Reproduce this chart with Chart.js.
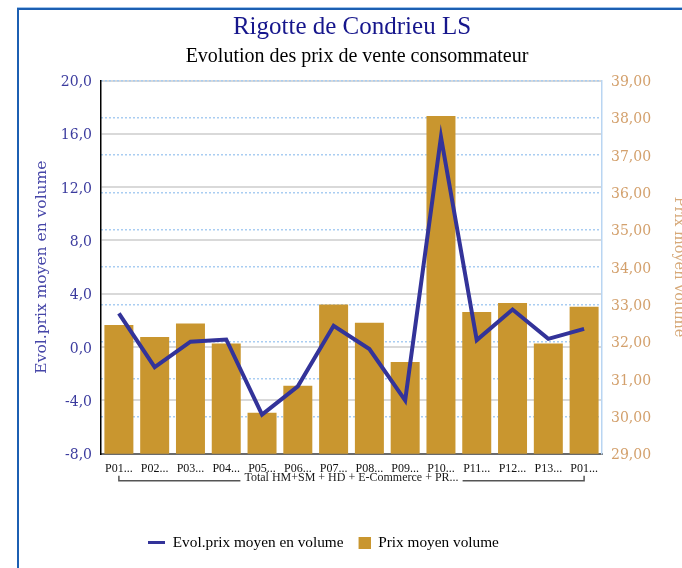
<!DOCTYPE html>
<html>
<head>
<meta charset="utf-8">
<title>Rigotte de Condrieu LS</title>
<script src="https://cdn.jsdelivr.net/npm/chart.js@4.4.1/dist/chart.umd.min.js"></script>
<style>
  html, body { margin: 0; padding: 0; background: #ffffff; overflow: hidden; }
  #wrap { position: relative; width: 682px; height: 568px; }
</style>
</head>
<body>
<div id="wrap"><canvas id="chart" width="682" height="568"></canvas></div>
<script>
// Periods shown on the category axis
const categories = ['P01...', 'P02...', 'P03...', 'P04...', 'P05...', 'P06...', 'P07...',
                    'P08...', 'P09...', 'P10...', 'P11...', 'P12...', 'P13...', 'P01...'];
const groupLabel = 'Total HM+SM + HD + E-Commerce + PR...';

// Evolution of the average volume price (left axis, %)
const evolPrix = [2.53, -1.50, 0.40, 0.57, -5.07, -2.95, 1.60, -0.15, -4.00, 15.76, 0.52, 2.82, 0.62, 1.37];
// Average volume price (right axis)
const prixMoyen = [32.45, 32.13, 32.49, 31.95, 30.10, 30.82, 33.00, 32.51, 31.46, 38.05, 32.80, 33.04, 31.95, 32.94];

// Tick values of both value axes
const evolTicks = [-8, -4, 0, 4, 8, 12, 16, 20];
const prixTicks = [29, 30, 31, 32, 33, 34, 35, 36, 37, 38, 39];

const NAVY = '#333399';
const GOLD = '#c9962f';

// Legend swatches: a short thick line and a small square (right-aligned in the box)
function swatch(w, h, x0, sw, sh, color) {
  const c = document.createElement('canvas');
  c.width = w; c.height = h;
  const g = c.getContext('2d');
  g.fillStyle = color;
  g.fillRect(x0, (h - sh) / 2, sw, sh);
  return c;
}
const legendSwatches = [swatch(17, 3, 0, 17, 3, NAVY), swatch(17, 12, 5, 12, 12, GOLD)];
const LEGEND_SHIFT = 32;

// Frame, headings and the category group bracket
const decorations = {
  id: 'decorations',
  afterLayout(chart) {
    const lg = chart.legend;
    if (lg) { lg.left -= LEGEND_SHIFT; lg.right -= LEGEND_SHIFT; }
  },
  beforeDraw(chart) {
    const ctx = chart.ctx;
    ctx.save();
    ctx.fillStyle = '#ffffff';
    ctx.fillRect(0, 0, chart.width, chart.height);
    ctx.fillStyle = '#9fc3ea';
    ctx.fillRect(17, 7, chart.width, 1);
    ctx.fillStyle = '#1c5fb2';
    ctx.fillRect(17, 8, chart.width, 2);
    ctx.fillRect(17, 8, 2, chart.height);
    ctx.restore();
  },
  afterDraw(chart) {
    const ctx = chart.ctx;
    ctx.save();
    ctx.textAlign = 'center';
    ctx.textBaseline = 'middle';
    ctx.fillStyle = '#16168c';
    ctx.font = '25px "Liberation Serif"';
    ctx.fillText('Rigotte de Condrieu LS', 352, 27);
    ctx.fillStyle = '#000000';
    ctx.font = '20px "Liberation Serif"';
    ctx.fillText('Evolution des prix de vente consommateur', 357, 57);

    const xs = chart.scales.x;
    const x1 = xs.getPixelForValue(0);
    const x2 = xs.getPixelForValue(categories.length - 1);
    const cx = (x1 + x2) / 2;
    const ty = xs.top + 24;
    ctx.font = '12px "Liberation Serif"';
    ctx.fillStyle = '#1a1a1a';
    ctx.fillText(groupLabel, cx, ty);
    const half = ctx.measureText(groupLabel).width / 2 + 4;
    const ly = ty + 3;
    ctx.strokeStyle = '#555555';
    ctx.lineWidth = 1.5;
    ctx.beginPath();
    ctx.moveTo(x1, ly - 5);
    ctx.lineTo(x1, ly);
    ctx.lineTo(cx - half, ly);
    ctx.moveTo(cx + half, ly);
    ctx.lineTo(x2, ly);
    ctx.lineTo(x2, ly - 5);
    ctx.stroke();
    ctx.restore();
  }
};

new Chart(document.getElementById('chart'), {
  type: 'bar',
  data: {
    labels: categories,
    datasets: [
      {
        type: 'line',
        label: 'Evol.prix moyen en volume',
        data: evolPrix,
        yAxisID: 'y',
        borderColor: NAVY,
        backgroundColor: NAVY,
        borderWidth: 4,
        pointRadius: 0,
        tension: 0,
        order: 0
      },
      {
        type: 'bar',
        label: 'Prix moyen volume',
        data: prixMoyen,
        yAxisID: 'y2',
        backgroundColor: GOLD,
        borderWidth: 0,
        categoryPercentage: 1.0,
        barPercentage: 0.81,
        order: 1
      }
    ]
  },
  options: {
    responsive: false,
    animation: false,
    layout: { padding: { left: 29, right: 0, top: 80.5, bottom: 7.5 } },
    plugins: {
      title: { display: false },
      tooltip: { enabled: false },
      legend: {
        position: 'bottom',
        labels: {
          usePointStyle: true,
          pointStyleWidth: 17,
          padding: 10,
          color: '#000000',
          font: { family: '"Liberation Serif"', size: 15.3 },
          generateLabels(chart) {
            const items = Chart.defaults.plugins.legend.labels.generateLabels(chart);
            items.forEach(it => { it.pointStyle = legendSwatches[it.datasetIndex]; });
            return items;
          }
        }
      }
    },
    scales: {
      x: {
        grid: { display: false, drawTicks: false },
        border: { display: true, color: '#6b6b6b', width: 2 },
        ticks: {
          autoSkip: false,
          maxRotation: 0,
          padding: 8,
          color: '#111111',
          font: { family: '"Liberation Serif"', size: 12 }
        },
        afterFit(scale) { scale.height = 71.5; }
      },
      y: {
        position: 'left',
        min: evolTicks[0],
        max: evolTicks[evolTicks.length - 1],
        afterBuildTicks(scale) { scale.ticks = evolTicks.map(v => ({ value: v })); },
        grid: { color: '#d9d9d9', lineWidth: 2, drawTicks: false },
        border: { display: true, color: '#000000', width: 1.5 },
        ticks: {
          padding: 9,
          labelOffset: 2,
          color: '#3b3b9e',
          font: { family: '"DejaVu Serif"', size: 14 },
          callback: v => v.toFixed(1).replace('.', ',')
        },
        title: {
          display: true,
          text: 'Evol.prix moyen en volume',
          color: '#4646a8',
          font: { family: '"DejaVu Serif"', size: 15.5 },
          padding: { top: 4, bottom: 4 }
        },
        afterFit(scale) { scale.width = 72; }
      },
      y2: {
        position: 'right',
        min: prixTicks[0],
        max: prixTicks[prixTicks.length - 1],
        afterBuildTicks(scale) { scale.ticks = prixTicks.map(v => ({ value: v })); },
        grid: { color: '#a9cdf2', lineWidth: 1.5, drawTicks: false },
        border: { display: true, color: '#b9d5f2', width: 1.5, dash: [2, 2] },
        ticks: {
          padding: 9,
          labelOffset: 2,
          color: '#d3a06c',
          font: { family: '"DejaVu Serif"', size: 14 },
          callback: v => v.toFixed(2).replace('.', ',')
        },
        title: {
          display: true,
          text: 'Prix moyen volume',
          color: '#d6a878',
          font: { family: '"DejaVu Serif"', size: 14.5 },
          padding: { top: -5.5, bottom: 4 }
        },
        afterFit(scale) { scale.width = 80; }
      }
    }
  },
  plugins: [decorations]
});
</script>
</body>
</html>
